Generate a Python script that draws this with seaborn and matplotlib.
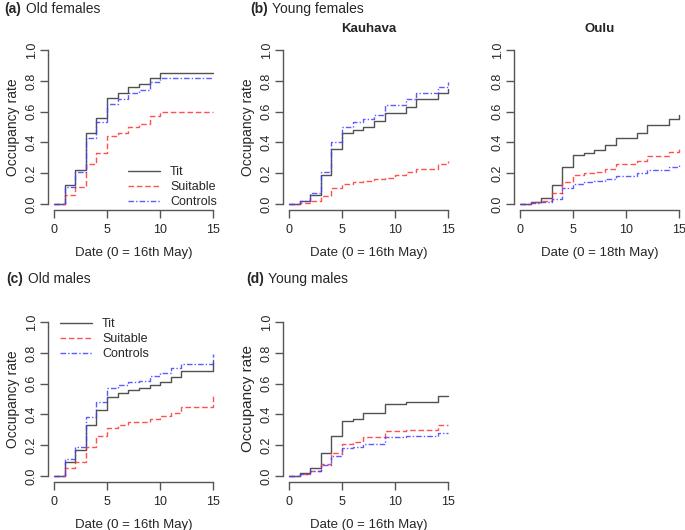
import numpy as np
import pandas as pd
import seaborn as sns
import matplotlib.pyplot as plt

days = list(range(16))

# (a) old females
a_tit = [0, 0.12, 0.22, 0.46, 0.56, 0.69, 0.72, 0.76, 0.78, 0.82, 0.85, 0.85, 0.85, 0.85, 0.85, 0.85]
a_suit = [0, 0.06, 0.11, 0.26, 0.33, 0.44, 0.46, 0.50, 0.52, 0.57, 0.60, 0.60, 0.60, 0.60, 0.60, 0.60]
a_ctrl = [0, 0.11, 0.21, 0.43, 0.53, 0.65, 0.68, 0.72, 0.74, 0.79, 0.82, 0.82, 0.82, 0.82, 0.82, 0.82]

# (b) young females, Kauhava
bk_tit = [0, 0.02, 0.06, 0.19, 0.36, 0.46, 0.48, 0.50, 0.54, 0.59, 0.59, 0.63, 0.68, 0.68, 0.72, 0.75]
bk_suit = [0, 0.005, 0.02, 0.05, 0.10, 0.13, 0.14, 0.15, 0.16, 0.17, 0.19, 0.21, 0.23, 0.23, 0.26, 0.28]
bk_ctrl = [0, 0.02, 0.07, 0.21, 0.40, 0.50, 0.53, 0.55, 0.58, 0.64, 0.64, 0.68, 0.72, 0.72, 0.76, 0.79]

# (b) young females, Oulu
bo_tit = [0, 0.01, 0.04, 0.12, 0.24, 0.32, 0.33, 0.35, 0.38, 0.43, 0.43, 0.46, 0.51, 0.51, 0.55, 0.58]
bo_suit = [0, 0.01, 0.02, 0.07, 0.14, 0.19, 0.20, 0.21, 0.23, 0.26, 0.26, 0.28, 0.31, 0.31, 0.34, 0.37]
bo_ctrl = [0, 0.005, 0.01, 0.03, 0.10, 0.13, 0.14, 0.15, 0.16, 0.18, 0.18, 0.20, 0.22, 0.22, 0.24, 0.26]

# (c) old males
c_tit = [0, 0.09, 0.17, 0.33, 0.43, 0.51, 0.54, 0.56, 0.57, 0.59, 0.61, 0.64, 0.68, 0.68, 0.68, 0.75]
c_suit = [0, 0.05, 0.09, 0.19, 0.26, 0.31, 0.33, 0.35, 0.35, 0.37, 0.39, 0.41, 0.45, 0.45, 0.45, 0.52]
c_ctrl = [0, 0.11, 0.19, 0.38, 0.48, 0.57, 0.59, 0.61, 0.62, 0.65, 0.67, 0.70, 0.73, 0.73, 0.73, 0.79]

# (d) young males
d_tit = [0, 0.02, 0.05, 0.15, 0.26, 0.36, 0.37, 0.41, 0.41, 0.47, 0.47, 0.48, 0.48, 0.48, 0.52, 0.52]
d_suit = [0, 0.01, 0.03, 0.08, 0.15, 0.21, 0.22, 0.25, 0.25, 0.29, 0.29, 0.30, 0.30, 0.30, 0.33, 0.33]
d_ctrl = [0, 0.01, 0.03, 0.07, 0.13, 0.18, 0.19, 0.21, 0.21, 0.25, 0.25, 0.26, 0.26, 0.26, 0.28, 0.28]

labels = ["Tit", "Suitable", "Controls"]
colors = ["#333333", "#ff3333", "#4040ff"]
styles = ["-", (0, (4, 2)), (0, (4, 1.5, 1, 1.5))]

sns.set_style("white")
plt.rcParams['font.family'] = ['Liberation Sans', 'DejaVu Sans']

fig = plt.figure(figsize=(6.85, 5.30), dpi=100)
W, H = 685, 530


def make_ax(left_px, top_px):
    # axes box in pixels: width 172, height 166
    return fig.add_axes([left_px / W, 1 - (top_px + 166) / H, 172 / W, 166 / H])


def draw_panel(ax, series, xlabel, ylabel=True, ylab_size=10):
    for vals, lab, col, ls in zip(series, labels, colors, styles):
        df = pd.DataFrame({"day": days, "rate": vals})
        sns.lineplot(data=df, x="day", y="rate", ax=ax, color=col, alpha=0.85,
                     linestyle=ls, drawstyle="steps-post", lw=1.0,
                     estimator=None, label=lab)
    ax.set_xlim(-0.6, 15.6)
    ax.set_ylim(-0.04, 1.04)
    ax.set_xticks([0, 5, 10, 15])
    ax.set_yticks([0, 0.2, 0.4, 0.6, 0.8, 1.0])
    ax.set_yticklabels(["0.0", "0.2", "0.4", "0.6", "0.8", "1.0"], rotation=90, va="center")
    for s in ["top", "right"]:
        ax.spines[s].set_visible(False)
    ax.spines["bottom"].set_bounds(0, 15)
    ax.spines["left"].set_bounds(0, 1)
    for s in ["bottom", "left"]:
        ax.spines[s].set_color("#555555")
        ax.spines[s].set_linewidth(1.0)
    ax.tick_params(direction="out", length=6, width=1.0, color="#555555",
                   labelsize=9, bottom=True, left=True)
    ax.tick_params(axis="x", pad=4)
    ax.tick_params(axis="y", pad=1)
    ax.set_xlabel(xlabel, fontsize=9.5, labelpad=8)
    if ylabel:
        ax.set_ylabel("Occupancy rate", fontsize=ylab_size, labelpad=4)
    else:
        ax.set_ylabel("")
    if ax.get_legend() is not None:
        ax.get_legend().remove()


leg_kw = dict(frameon=False, fontsize=9, handlelength=2.6, handletextpad=0.8,
              labelspacing=0.25, borderaxespad=0, borderpad=0)

ax_a = make_ax(47.6, 44)
draw_panel(ax_a, [a_tit, a_suit, a_ctrl], "Date (0 = 16th May)")
ax_a.legend(loc="lower left", bbox_to_anchor=(80 / 172, 0.01), **leg_kw)

ax_bk = make_ax(282.6, 44)
draw_panel(ax_bk, [bk_tit, bk_suit, bk_ctrl], "Date (0 = 16th May)")
ax_bk.set_title("Kauhava", fontsize=9.5, fontweight="bold", pad=9)

ax_bo = make_ax(513.6, 44)
draw_panel(ax_bo, [bo_tit, bo_suit, bo_ctrl], "Date (0 = 18th May)", ylabel=False)
ax_bo.set_title("Oulu", fontsize=9.5, fontweight="bold", pad=9)

ax_c = make_ax(47.6, 316)
draw_panel(ax_c, [c_tit, c_suit, c_ctrl], "Date (0 = 16th May)")
ax_c.legend(loc="upper left", bbox_to_anchor=(12 / 172, 1 - 2 / 166), **leg_kw)

ax_d = make_ax(282.6, 316)
draw_panel(ax_d, [d_tit, d_suit, d_ctrl], "Date (0 = 16th May)", ylab_size=11)

# panel headings
def heading(x_px, y_px, tag, text):
    fig.text(x_px / W, 1 - y_px / H, tag, fontsize=10, fontweight="bold", va="center")
    fig.text((x_px + 22) / W, 1 - y_px / H, text, fontsize=10, va="center")

heading(4, 9, "(a)", "Old females")
heading(250, 9, "(b)", "Young females")
heading(6, 279, "(c)", "Old males")
heading(246, 279, "(d)", "Young males")

fig.savefig("out.png", dpi=100)
